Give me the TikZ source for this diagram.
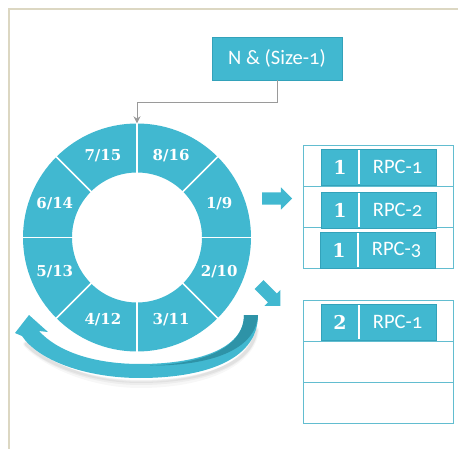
\documentclass[tikz,border=0pt]{standalone}
\usepackage{fontspec}
\setmainfont{Carlito}[Numbers=OldStyle]
\newfontfamily\ringfont{DejaVu Serif}
\usetikzlibrary{arrows.meta,shapes.arrows,calc}
\definecolor{cy}{HTML}{41B8D0}
\definecolor{cyd}{HTML}{33A2BA}
\definecolor{cydark}{HTML}{2E93A7}
\definecolor{framecol}{HTML}{DCD7C2}
\definecolor{tabcol}{HTML}{62BDD0}
\definecolor{conncol}{HTML}{9A9A9A}
\begin{document}
\begin{tikzpicture}[x=1pt,y=-1pt,
  topbox/.style={rectangle, fill=cy, draw=cyd, line width=0.8pt, minimum width=130pt, minimum height=43pt, inner sep=0pt, text=white, font=\fontsize{20.5}{22}\selectfont},
  conn/.style={draw=conncol, line width=1pt, -{Stealth[length=7pt,width=7pt]}},
  ringlab/.style={text=white, font=\ringfont\bfseries\fontsize{15}{15}\selectfont, inner sep=0pt},
  tabrow/.style={rectangle, draw=tabcol, line width=1pt, minimum width=150pt, minimum height=40.67pt, inner sep=0pt},
  rpcbox/.style={rectangle, fill=cy, draw=cyd, line width=0.8pt, minimum width=115pt, minimum height=36pt, inner sep=0pt},
  bignumtxt/.style={text=white, font=\ringfont\bfseries\fontsize{19}{19}\selectfont, inner sep=0pt},
  rpctxt/.style={text=white, font=\fontsize{20.5}{22}\selectfont, inner sep=0pt},
  barrow/.style={single arrow, fill=cy, draw=none, minimum height=30pt, inner xsep=0pt, inner ysep=6pt, single arrow head extend=5pt, single arrow tip angle=90}
]
\useasboundingbox (0,0) rectangle (458,449);
% frame
\draw[framecol, line width=1.5pt] (9,449) -- (9,9) -- (458,9);

% ring
\coordinate (c) at (137,237.5);
\fill[cy, even odd rule] (c) circle (114) (c) circle (65);
\foreach \a in {0,45,...,315}
  \draw[white, line width=1.5pt] ([shift={(\a:64)}]c) -- ([shift={(\a:114.5)}]c);
\node[circle, minimum size=228pt, inner sep=0pt, draw=none] (ring) at (c) {};
\foreach \a/\t [count=\i] in {-67.5/{8/16}, -22.5/{1/9}, 22.5/{2/10}, 67.5/{3/11}, 112.5/{4/12}, 157.5/{5/13}, -157.5/{6/14}, -112.5/{7/15}}
  \node[ringlab] (lab\i) at ([shift={(\a:89)}]c) {\t};

% top box and connector
\node[topbox] (nbox) at (277,58.5) {N \& (Size-1)};
\draw[conn] (nbox.south) -- ++(0,22) -| (ring.north);

% ribbon shadow (soft)
\foreach \o/\op/\w in {7/0.03/6, 5/0.04/4, 3.5/0.05/3}
  \draw[black, opacity=\op, line width=\w pt, line cap=round] (256,330) .. controls (252,366) and (200,378+\o) .. (140,378+\o) .. controls (90,378+\o) and (45,364) .. (26,344);
% ribbon
\fill[cy] (244,315) -- (258,315) .. controls (258,362) and (200,378) .. (140,378)
  .. controls (85,378) and (38,360) .. (22,336) -- (15,333) -- (29,315) -- (48,332) -- (39,331)
  .. controls (58,352) and (95,364) .. (140,364) .. controls (195,364) and (244,350) .. (244,315) -- cycle;
\fill[cydark] (244,315) -- (258,315) .. controls (256,350) and (210,366) .. (150,365.5)
  .. controls (198,364) and (244,350) .. (244,315) -- cycle;

% block arrows
\node[barrow] (ar1) at (274,198.5) {};
\node[barrow, rotate=-45] (ar2) at (267.5,293) {};

% table 1
\node[tabrow] (t1a) at (378,166.33) {};
\node[tabrow] (t1b) at (378,207) {};
\node[tabrow] (t1c) at (378,247.67) {};
% table 2
\node[tabrow] (t2a) at (378,321.33) {};
\node[tabrow] (t2b) at (378,362) {};
\node[tabrow] (t2c) at (378,402.67) {};

% RPC boxes
\foreach \nm/\x/\y/\n/\t in {r1/378.5/167/1/RPC-1, r2/378.5/210/1/RPC-2, r3/377.5/250/1/RPC-3, r4/378.5/322/2/RPC-1}{
  \node[rpcbox] (\nm) at (\x,\y) {};
  \draw[white, line width=1.8pt] ([xshift=38pt,yshift=-1.5pt]\nm.north west) -- ([xshift=38pt,yshift=1.5pt]\nm.south west);
  \node[bignumtxt] (\nm n) at ([xshift=19.5pt]\nm.west) {\n};
  \node[rpctxt] (\nm t) at ([xshift=77pt]\nm.west) {\t};
}
\end{tikzpicture}
\end{document}
